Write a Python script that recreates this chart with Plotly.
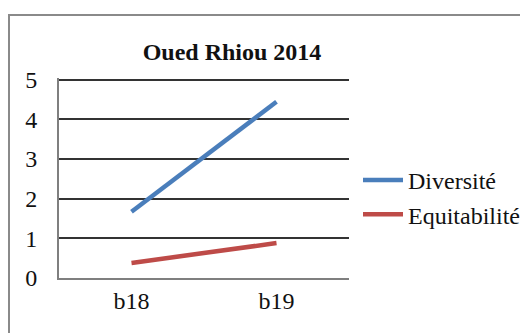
import plotly.graph_objects as go

# Sites and index values
sites = ["b18", "b19"]
diversite = [1.67, 4.44]
equitabilite = [0.38, 0.88]
y_ticks = [0, 1, 2, 3, 4, 5]

W, H = 520, 333
# plot-area pixel box (right margin is zero; x domain ends at R)
L, R, T, B = 59, 349, 78, 278
y_top = 5.04

fig = go.Figure()
fig.add_trace(go.Scatter(x=sites, y=diversite, mode="lines", name="Diversité",
                         line=dict(color="#4A7EBB", width=4.5)))
fig.add_trace(go.Scatter(x=sites, y=equitabilite, mode="lines", name="Equitabilité",
                         line=dict(color="#BE4B48", width=4.5)))

def px_x(p):
    return (p - L) / (W - L)

def px_y(p):
    return (B - p) / (B - T)

# outer chart frame
fig.add_shape(type="rect", xref="paper", yref="paper",
              x0=px_x(9), x1=px_x(560), y0=px_y(15), y1=px_y(400),
              line=dict(color="#8a8a8a", width=2), layer="below")

serif = "Liberation Serif"
fig.update_layout(
    width=W, height=H,
    margin=dict(l=L, r=0, t=T, b=H - B, pad=0, autoexpand=False),
    paper_bgcolor="white", plot_bgcolor="white",
    font=dict(family=serif, color="#111", size=24),
    title=dict(text="<b>Oued Rhiou 2014</b>", x=232 / W,
               xanchor="center", y=1 - 52 / H, yanchor="middle",
               font=dict(family=serif, size=24, color="#111")),
    xaxis=dict(type="category", range=[-0.5, 1.5], domain=[0, px_x(R)],
               showgrid=False, showline=True, linecolor="#7f7f7f", linewidth=2,
               ticks="", tickfont=dict(size=24), fixedrange=True),
    yaxis=dict(range=[0, y_top], tickvals=y_ticks, showgrid=True, gridcolor="#333",
               gridwidth=1.5, showline=True, linecolor="#7f7f7f", linewidth=2,
               ticks="", ticklabelstandoff=15, tickfont=dict(size=24), zeroline=False),
    legend=dict(x=px_x(358), xanchor="left", y=px_y(158), yanchor="top",
                font=dict(size=24), bgcolor="rgba(0,0,0,0)", itemwidth=40,
                tracegroupgap=0),
    showlegend=True,
)

fig.write_html("out.html")
